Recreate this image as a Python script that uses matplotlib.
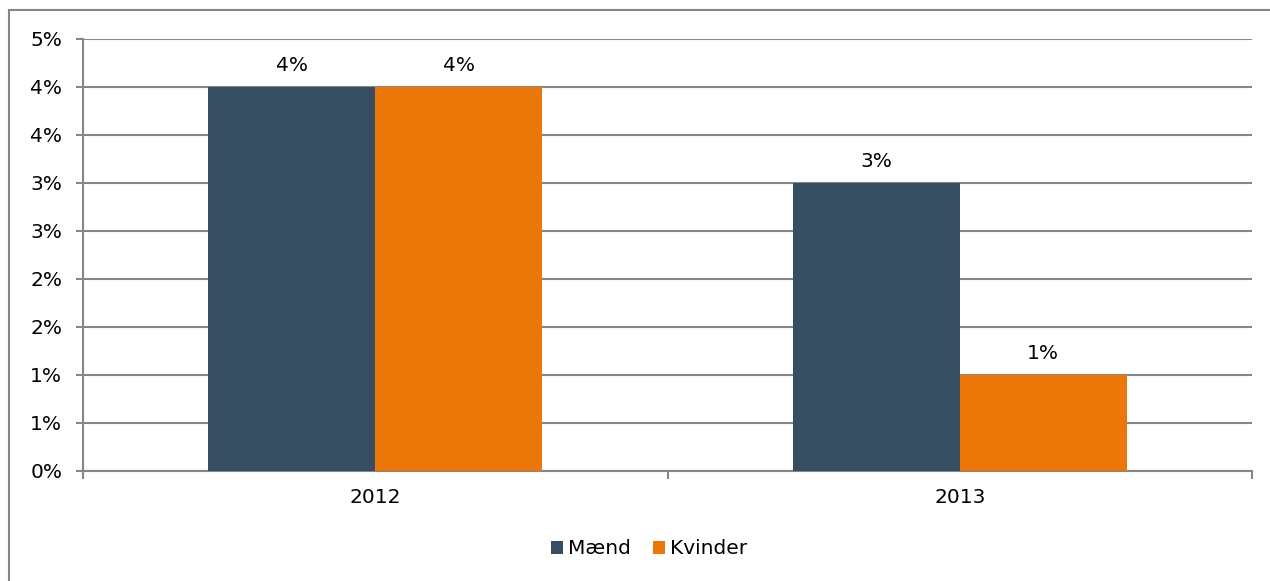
import numpy as np
import matplotlib.pyplot as plt
from matplotlib.patches import Rectangle

years = ['2012', '2013']
maend = [4.0, 3.0]
kvinder = [4.0, 1.0]
yticks = [0, 0.5, 1.0, 1.5, 2.0, 2.5, 3.0, 3.5, 4.0, 4.5]
ytick_labels = ['0%', '1%', '1%', '2%', '2%', '3%', '3%', '4%', '4%', '5%']

c_m = '#374D62'
c_k = '#EC7709'
grid_c = '#868686'
fs = 14.5

fig = plt.figure(figsize=(12.7, 5.81), dpi=100)
ax = fig.add_axes([83/1270, 1-471/581, (1252-83)/1270, (471-39)/581])

# outer chart frame
fig.patches.append(Rectangle((9/1270, -0.1), 1.2, 1 - 10/581 + 0.1,
                             transform=fig.transFigure, fill=False,
                             edgecolor=grid_c, lw=1.5))

x = np.arange(len(years))
w = 167/584.5
b1 = ax.bar(x - w/2, maend, w, color=c_m, label='Mænd', zorder=3)
b2 = ax.bar(x + w/2, kvinder, w, color=c_k, label='Kvinder', zorder=3)

for bars, vals in [(b1, maend), (b2, kvinder)]:
    for r, v in zip(bars, vals):
        ax.annotate(f'{v:.0f}%', (r.get_x() + r.get_width()/2, v),
                    xytext=(0, 11.5), textcoords='offset points',
                    ha='center', va='baseline', fontsize=fs)

ax.set_xlim(-0.5, 1.5)
ax.set_ylim(0, 4.5)
ax.set_yticks(yticks)
ax.set_yticklabels(ytick_labels, fontsize=fs)
ax.yaxis.grid(True, color=grid_c, lw=1.5, zorder=0)
ax.tick_params(axis='y', length=5, width=1.5, color=grid_c, pad=10)

ax.set_xticks([-0.5, 0.5, 1.5])
ax.set_xticklabels([])
ax.tick_params(axis='x', length=6, width=1.5, color=grid_c, direction='out')
ax.set_xticks(x, minor=True)
ax.set_xticklabels(years, minor=True, fontsize=fs)
ax.tick_params(axis='x', which='minor', length=0, pad=12)

for s in ['top', 'right']:
    ax.spines[s].set_visible(False)
for s in ['left', 'bottom']:
    ax.spines[s].set_color(grid_c)
    ax.spines[s].set_linewidth(1.5)

fig.legend(handles=[b1, b2], loc='center', bbox_to_anchor=(649/1270, 1-549/581),
           ncol=2, frameon=False, fontsize=fs, handlelength=0.6,
           handleheight=0.6, handletextpad=0.25, columnspacing=1.1)

fig.savefig('out.png', dpi=100)
